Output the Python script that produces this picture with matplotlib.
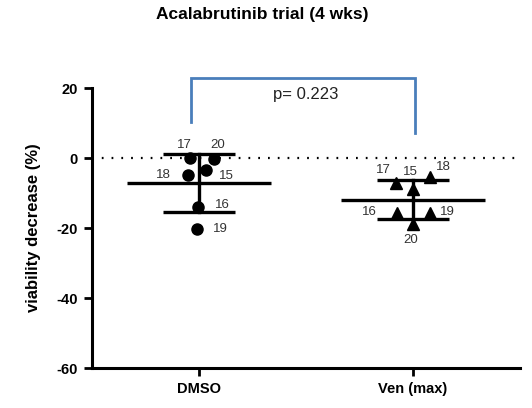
import numpy as np
import matplotlib
matplotlib.use("Agg")
import matplotlib.pyplot as plt

plt.rcParams['font.family'] = ['Liberation Sans', 'DejaVu Sans']
plt.rcParams['axes.unicode_minus'] = False

groups = ["DMSO", "Ven (max)"]
sample_ids = ["17", "20", "18", "15", "16", "19"]

dmso_values = [0.0, -0.4, -4.9, -3.4, -14.1, -20.4]
ven_values = [-7.2, -8.9, -5.3, -15.7, -15.6, -18.9]
ven_ids = ["17", "15", "18", "16", "19", "20"]
p_value = 0.223

# small horizontal spread so the points don't sit on top of each other
dmso_jitter = [-0.042, 0.070, -0.051, 0.033, -0.005, -0.009]
ven_jitter = [-0.081, 0.0, 0.079, -0.076, 0.079, 0.0]

# label offsets in pixels (dx, dy) for each point
dmso_offsets = [(-6, 13), (4, 14), (-25, 0), (20, -6), (24, 2), (23, 0)]
ven_offsets = [(-12, 13), (-3, 17), (13, 10), (-27, 1), (17, 1), (-2, -16)]

fig = plt.figure(figsize=(5.32, 4.08), dpi=100)
ax = fig.add_axes([92 / 532, 1 - 368 / 408, 428 / 532, 280 / 408])

series = [
    (0, dmso_values, dmso_jitter, sample_ids, dmso_offsets, "o"),
    (1, ven_values, ven_jitter, ven_ids, ven_offsets, "^"),
]

for xc, vals, jit, ids, offs, mk in series:
    vals = np.array(vals)
    m = vals.mean()
    sd = vals.std(ddof=1)
    # mean bar
    ax.plot([xc - 0.336, xc + 0.336], [m, m], color="black", lw=2.4,
            solid_capstyle="butt", zorder=2)
    # SD whisker + caps
    ax.plot([xc, xc], [m - sd, m + sd], color="black", lw=2.4, zorder=2)
    for yv in (m - sd, m + sd):
        ax.plot([xc - 0.168, xc + 0.168], [yv, yv], color="black", lw=2.4,
                solid_capstyle="butt", zorder=2)
    xs = [xc + j for j in jit]
    ax.plot(xs, vals, linestyle="none", marker=mk, color="black",
            markersize=8 if mk == "o" else 8.5, zorder=3)
    for x, y, lab, (dx, dy) in zip(xs, vals, ids, offs):
        ax.annotate(lab, (x, y), xytext=(dx, dy), textcoords="offset pixels",
                    ha="center", va="center", fontsize=9.5, color="#333333")

ax.axhline(0, color="black", lw=1.6, linestyle=(0, (0.8, 3.6)), zorder=1)

ax.set_xlim(-0.5, 1.5)
ax.set_ylim(-60, 20)
ax.set_yticks([20, 0, -20, -40, -60])
ax.set_xticks([0, 1])
ax.set_xticklabels(groups, fontsize=10.5, fontweight="bold")
ax.tick_params(axis="both", width=2, length=6, labelsize=10.5, pad=4)
for lab in ax.get_yticklabels():
    lab.set_fontweight("bold")
ax.spines["top"].set_visible(False)
ax.spines["right"].set_visible(False)
ax.spines["left"].set_linewidth(2.2)
ax.spines["bottom"].set_linewidth(2.2)
ax.set_ylabel("viability decrease (%)", fontsize=12, fontweight="bold", labelpad=11)

# significance bracket
blue = "#4a7ebb"
ax.plot([-0.036, -0.036, 1.01, 1.01], [10.3, 22.9, 22.9, 7.1], color=blue,
        lw=2, clip_on=False, solid_joinstyle="miter")
ax.text(0.498, 18, f"p= {p_value}", ha="center", va="center", fontsize=12,
        color="#222222", clip_on=False)

fig.text(262 / 532, 1 - 14 / 408, "Acalabrutinib trial (4 wks)", ha="center",
         va="center", fontsize=12.5, fontweight="bold")

fig.savefig("out.png", dpi=100, facecolor="white")
